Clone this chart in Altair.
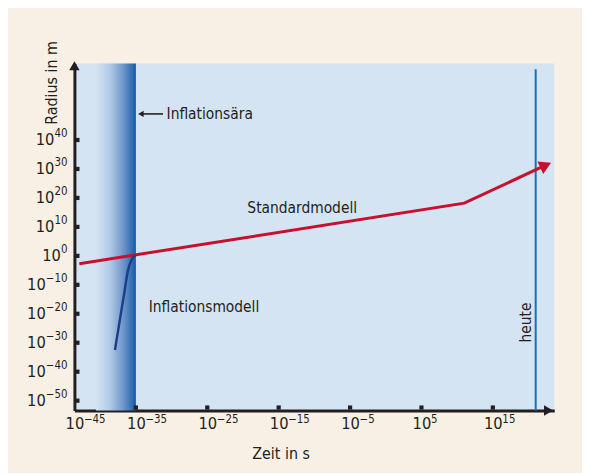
import altair as alt
import pandas as pd

# ---- data (exponents of 10) ----
x_ticks = [-45, -35, -25, -15, -5, 5, 15]
x_exps = ["−45", "−35", "−25", "−15", "−5", "5", "15"]
y_ticks = [-50, -40, -30, -20, -10, 0, 10, 20, 30, 40]
y_exps = ["−50", "−40", "−30", "−20", "−10", "0", "10", "20", "30", "40"]

std_t = [-44.2, 11.0, 22.4]
std_r = [-2.7, 18.2, 31.3]

infl_t = [-38.4, -37.7, -36.9, -36.3, -35.6, -35.0]
infl_r = [-32.5, -23.3, -13.0, -5.1, -1.0, 0.3]

era_start, era_end = -41.5, -35.0
heute_t = 21.0
heute_top = 64.4

X_DOM = [-45, -35, 23.6]
X_RANGE = [0, 62, 484]
Y_DOM = [-53.4, 66.4]

FONT = "'DejaVu Sans Condensed', 'Liberation Sans Narrow', 'Roboto Condensed', 'DejaVu Sans', sans-serif"
INK = "#231f20"
BG = "#f8f0e4"
PANEL = "#d4e4f3"
BASE_FS = 16.5
EXP_FS = 11.5

xs = alt.Scale(domain=X_DOM, range=X_RANGE, zero=False, nice=False)
ys = alt.Scale(domain=Y_DOM, zero=False, nice=False)
PX_PER_UNIT = (X_RANGE[1] - X_RANGE[0]) / (X_DOM[1] - X_DOM[0])


def X(field="t"):
    return alt.X(f"{field}:Q", scale=xs)


def Y(field="r"):
    return alt.Y(f"{field}:Q", scale=ys)


# inflation era gradient band (carries the axes)
band_df = pd.DataFrame({"t": [era_start], "t2": [era_end],
                        "r": [Y_DOM[0]], "r2": [Y_DOM[1]]})
band = alt.Chart(band_df).mark_rect(
    color=alt.Gradient(
        gradient="linear",
        stops=[alt.GradientStop(offset=0, color=PANEL),
               alt.GradientStop(offset=0.35, color="#b2cae6"),
               alt.GradientStop(offset=0.7, color="#6b93c9"),
               alt.GradientStop(offset=0.93, color="#2a69b0"),
               alt.GradientStop(offset=1, color="#0a5ba6")],
        x1=0, x2=1, y1=0, y2=0),
).encode(
    x=alt.X("t:Q", scale=xs,
            axis=alt.Axis(values=x_ticks, labelExpr="'10'",
                          ticks=False, grid=False, domainColor=INK, domainWidth=3,
                          labelFont=FONT, labelFontSize=BASE_FS, labelColor=INK,
                          labelPadding=5, labelFlush=False,
                          labelOverlap=False, labelBound=False,
                          title="Zeit in s", titleFont=FONT, titleFontSize=16,
                          titleFontWeight="normal", titleColor=INK,
                          titleX=208, titleY=43, titleAlign="center",
                          titleBaseline="middle")),
    x2="t2:Q",
    y=alt.Y("r:Q", scale=ys,
            axis=alt.Axis(values=y_ticks, labels=False,
                          ticks=False, grid=False, domainColor=INK, domainWidth=3,
                          title="Radius in m", titleFont=FONT, titleFontSize=16,
                          titleFontWeight="normal", titleColor=INK,
                          titleX=-23, titleY=19, titleAngle=270, titleAlign="center",
                          titleBaseline="middle")),
    y2="r2:Q",
)

# x tick label exponents (superscript after the axis' "10")
xexp_df = pd.DataFrame({"t": x_ticks, "r": [Y_DOM[0]] * len(x_ticks), "e": x_exps})
xexp = alt.Chart(xexp_df).mark_text(font=FONT, fontSize=EXP_FS, color=INK, align="left",
                                    baseline="middle", dx=9.6, dy=10).encode(
    x=X(), y=Y(), text="e:N")

# y tick labels: "10" + superscript exponent, right aligned
ylab_df = pd.DataFrame({"t": [X_DOM[0]] * len(y_ticks), "r": y_ticks, "e": y_exps})
yexp = alt.Chart(ylab_df).mark_text(font=FONT, fontSize=EXP_FS, color=INK, align="right",
                                    baseline="middle", dx=-7, dy=-6).encode(
    x=X(), y=Y(), text="e:N")
ybase = alt.Chart(ylab_df).transform_calculate(
    tb=f"{X_DOM[0]} - (7 + length(datum.e) * 6.6 + (indexof(datum.e, '−') >= 0 ? 2.1 : 0)) / {PX_PER_UNIT}",
    b="'10'",
).mark_text(font=FONT, fontSize=BASE_FS, color=INK, align="right",
            baseline="middle").encode(x=X("tb"), y=Y(), text="b:N")

# tick squares (inside the axes)
xt_df = pd.DataFrame({"t": x_ticks[1:], "r": [Y_DOM[0]] * (len(x_ticks) - 1)})
xt = alt.Chart(xt_df).mark_square(size=18, color=INK, opacity=1, yOffset=-3).encode(
    x=X(), y=Y())
yt_df = pd.DataFrame({"t": [X_DOM[0]] * len(y_ticks), "r": y_ticks})
yt = alt.Chart(yt_df).mark_square(size=18, color=INK, opacity=1, xOffset=3).encode(
    x=X(), y=Y())

# axis arrowheads
ya_df = pd.DataFrame({"t": [X_DOM[0]], "r": [65.6]})
ya = alt.Chart(ya_df).mark_point(shape="triangle-up", size=110, filled=True,
                                 color=INK, opacity=1).encode(x=X(), y=Y())
xa_df = pd.DataFrame({"t": [22.8], "r": [Y_DOM[0]]})
xa = alt.Chart(xa_df).mark_point(shape="triangle-right", size=110, filled=True,
                                 color=INK, opacity=1).encode(x=X(), y=Y())

# heute line
heute_df = pd.DataFrame({"t": [heute_t], "r": [Y_DOM[0]], "r2": [heute_top]})
heute = alt.Chart(heute_df).mark_rule(color="#1a6fb6", strokeWidth=2).encode(
    x=X(), y=Y(), y2="r2:Q")

# standard model (red arrow)
std_df = pd.DataFrame({"t": std_t, "r": std_r})
std = alt.Chart(std_df).mark_line(color="#c8102e", strokeWidth=3).encode(x=X(), y=Y())
head_df = pd.DataFrame({"t": [std_t[-1]], "r": [std_r[-1]]})
head = alt.Chart(head_df).mark_point(shape="triangle-right", size=190, filled=True,
                                     color="#c8102e", opacity=1, angle=335).encode(
    x=X(), y=Y())

# inflation model curve
infl_df = pd.DataFrame({"t": infl_t, "r": infl_r})
infl = alt.Chart(infl_df).mark_line(color="#1c3f8c", strokeWidth=2.5,
                                    interpolate="monotone").encode(x=X(), y=Y())

# small arrow for "Inflationsära"
arr_df = pd.DataFrame({"t": [-34.3], "t2": [-31.2], "r": [49.0]})
arr_line = alt.Chart(arr_df).mark_rule(color=INK, strokeWidth=1.6).encode(
    x=X(), x2="t2:Q", y=Y())
arr_head = alt.Chart(arr_df).mark_point(shape="triangle-left", size=40, filled=True,
                                        color=INK, opacity=1).encode(x=X(), y=Y())

# labels
left_df = pd.DataFrame({
    "t": [-30.7, -33.2],
    "r": [49.0, -17.8],
    "txt": ["Inflationsära", "Inflationsmodell"],
})
labs_left = alt.Chart(left_df).mark_text(font=FONT, fontSize=15.5, color=INK,
                                         align="left", baseline="middle").encode(
    x=X(), y=Y(), text="txt:N")

center_df = pd.DataFrame({"t": [-11.7], "r": [16.4], "txt": ["Standardmodell"]})
labs_center = alt.Chart(center_df).mark_text(font=FONT, fontSize=15.5, color=INK,
                                             align="center", baseline="middle").encode(
    x=X(), y=Y(), text="txt:N")

heute_lab_df = pd.DataFrame({"t": [19.6], "r": [-23.0], "txt": ["heute"]})
heute_lab = alt.Chart(heute_lab_df).mark_text(font=FONT, fontSize=15.5, color=INK,
                                              angle=270, align="center",
                                              baseline="middle").encode(
    x=X(), y=Y(), text="txt:N")

chart = alt.layer(band, heute, std, head, infl, arr_line, arr_head,
                  labs_left, labs_center, heute_lab, ybase, yexp, xexp,
                  xt, yt, ya, xa).properties(
    width=484, height=350,
    autosize=alt.AutoSizeParams(type="none"),
    padding={"left": 67, "top": 54, "right": 28, "bottom": 61},
    background=BG,
).configure_view(fill=PANEL, stroke=None).configure_axis(labelOverlap=False)

chart.save("out.html", embed_options={"renderer": "svg", "actions": False})
